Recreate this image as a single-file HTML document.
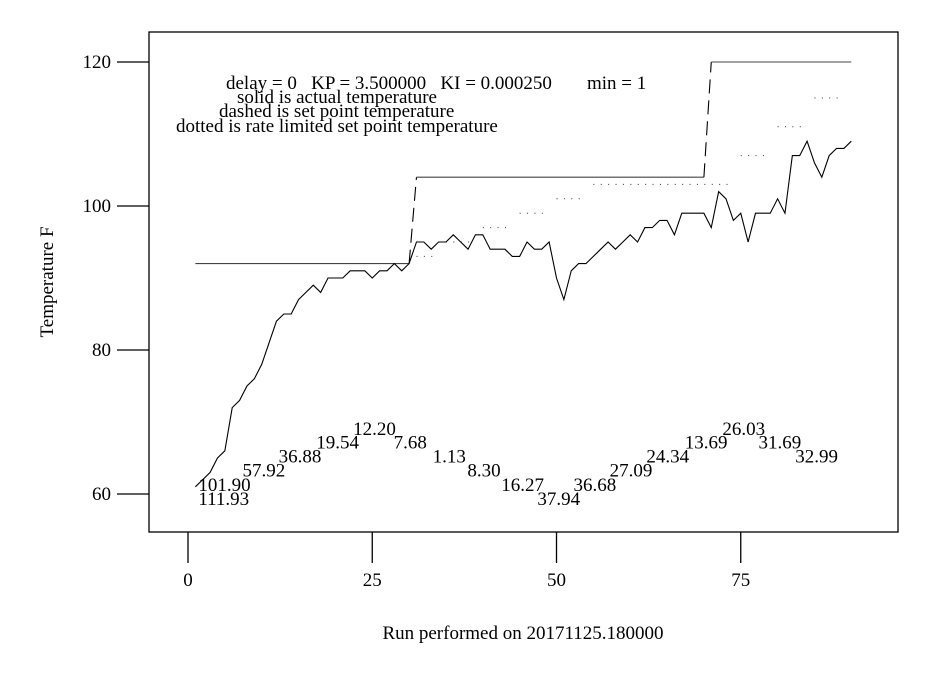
<!DOCTYPE html>
<html><head><meta charset="utf-8"><style>
body{margin:0;background:#fff}
svg text{font-family:"Liberation Serif",serif;fill:#000}
</style></head><body>
<svg id="c" width="945" height="675" viewBox="0 0 945 675">
<rect x="149" y="32" width="749" height="500" fill="none" stroke="#000" stroke-width="1.3"/>
<g id="axes"></g>
<g id="series"></g>
<g id="labels"></g>
<text x="226" y="89" font-size="19" xml:space="preserve">delay = 0   KP = 3.500000   KI = 0.000250</text>
<text x="587" y="89" font-size="19">min = 1</text>
<text x="237" y="103" font-size="19">solid is actual temperature</text>
<text x="219" y="117" font-size="19">dashed is set point temperature</text>
<text x="176" y="132" font-size="19">dotted is rate limited set point temperature</text>
<text x="523" y="639" font-size="19" text-anchor="middle">Run performed on 20171125.180000</text>
<text x="0" y="0" font-size="19" text-anchor="middle" transform="translate(53,282) rotate(-90)">Temperature F</text>
</svg>
<script>
const xTicks=[0,25,50,75];
const yTicks=[60,80,100,120];
const actual=[61,62,63,65,66,72,73,75,76,78,81,84,85,85,87,88,89,88,90,90,90,91,91,91,90,91,91,92,91,92,95,95,94,95,95,96,95,94,96,96,94,94,94,93,93,95,94,94,95,90,87,91,92,92,93,94,95,94,95,96,95,97,97,98,98,96,99,99,99,99,97,102,101,98,99,95,99,99,99,101,99,107,107,109,106,104,107,108,108,109];
const setpoint=[[1,92],[30,92],[31,104],[70,104],[71,120],[90,120]];
const rateSteps=[[31,34,93],[35,39,95],[40,44,97],[45,49,99],[50,54,101],[55,74,103],[75,79,107],[80,84,111],[85,89,115]];
const noteTexts=["111.93","101.90","57.92","36.88","19.54","12.20","7.68","1.13","8.30","16.27","37.94","36.68","27.09","24.34","13.69","26.03","31.69","32.99"];
const noteX=[1.4,1.4,7.4,12.3,17.4,22.4,27.9,33.2,37.9,42.5,47.4,52.3,57.2,62.2,67.4,72.5,77.4,82.4];
const noteY=[58.5,60.4,62.4,64.4,66.3,68.2,66.3,64.4,62.4,60.4,58.5,60.4,62.4,64.4,66.3,68.2,66.3,64.4];
const X=v=>188+v*7.37, Y=v=>494-(v-60)*7.2;
const NS="http://www.w3.org/2000/svg";
function mk(t,a,p){const e=document.createElementNS(NS,t);for(const k in a)e.setAttribute(k,a[k]);p.appendChild(e);return e;}
const ax=document.getElementById('axes'),se=document.getElementById('series'),lb=document.getElementById('labels');
xTicks.forEach(v=>{
 const l=mk('line',{x1:X(v),x2:X(v),y1:532,y2:563,stroke:'#000','stroke-width':1.3},ax);
 
 
 const t=mk('text',{x:X(v),y:586,'font-size':19,'text-anchor':'middle'},ax);t.textContent=v;
 
 
});
yTicks.forEach(v=>{
 const l=mk('line',{x1:117,x2:149,y1:Y(v),y2:Y(v),stroke:'#000','stroke-width':1.3},ax);
 
 
 const t=mk('text',{x:111,y:Y(v)+6,'font-size':19,'text-anchor':'end'},ax);t.textContent=v;
 
 
});
for(let i=0;i<setpoint.length-1;i++){
 const a=setpoint[i],b=setpoint[i+1],rise=a[1]!==b[1];
 const l=mk('line',{x1:X(a[0]),y1:Y(a[1]),x2:X(b[0]),y2:Y(b[1]),stroke:rise?'#000':'#444','stroke-width':1.1,'stroke-dasharray':rise?'14,7':'none'},se);
 
 
}
rateSteps.forEach(s=>{
 const l=mk('line',{x1:X(s[0]),x2:X(s[1]),y1:Y(s[2]),y2:Y(s[2]),stroke:'#333','stroke-width':1,'stroke-dasharray':'1,6.4'},se);
 
 
});
const p=mk('polyline',{points:actual.map((v,i)=>X(i+1)+','+Y(v)).join(' '),fill:'none',stroke:'#000','stroke-width':1.1},se);


noteTexts.forEach((s,i)=>{
 const t=mk('text',{x:X(noteX[i]),y:Y(noteY[i]),'font-size':19},lb);t.textContent=s;
 
 
});
</script>
</body></html>
